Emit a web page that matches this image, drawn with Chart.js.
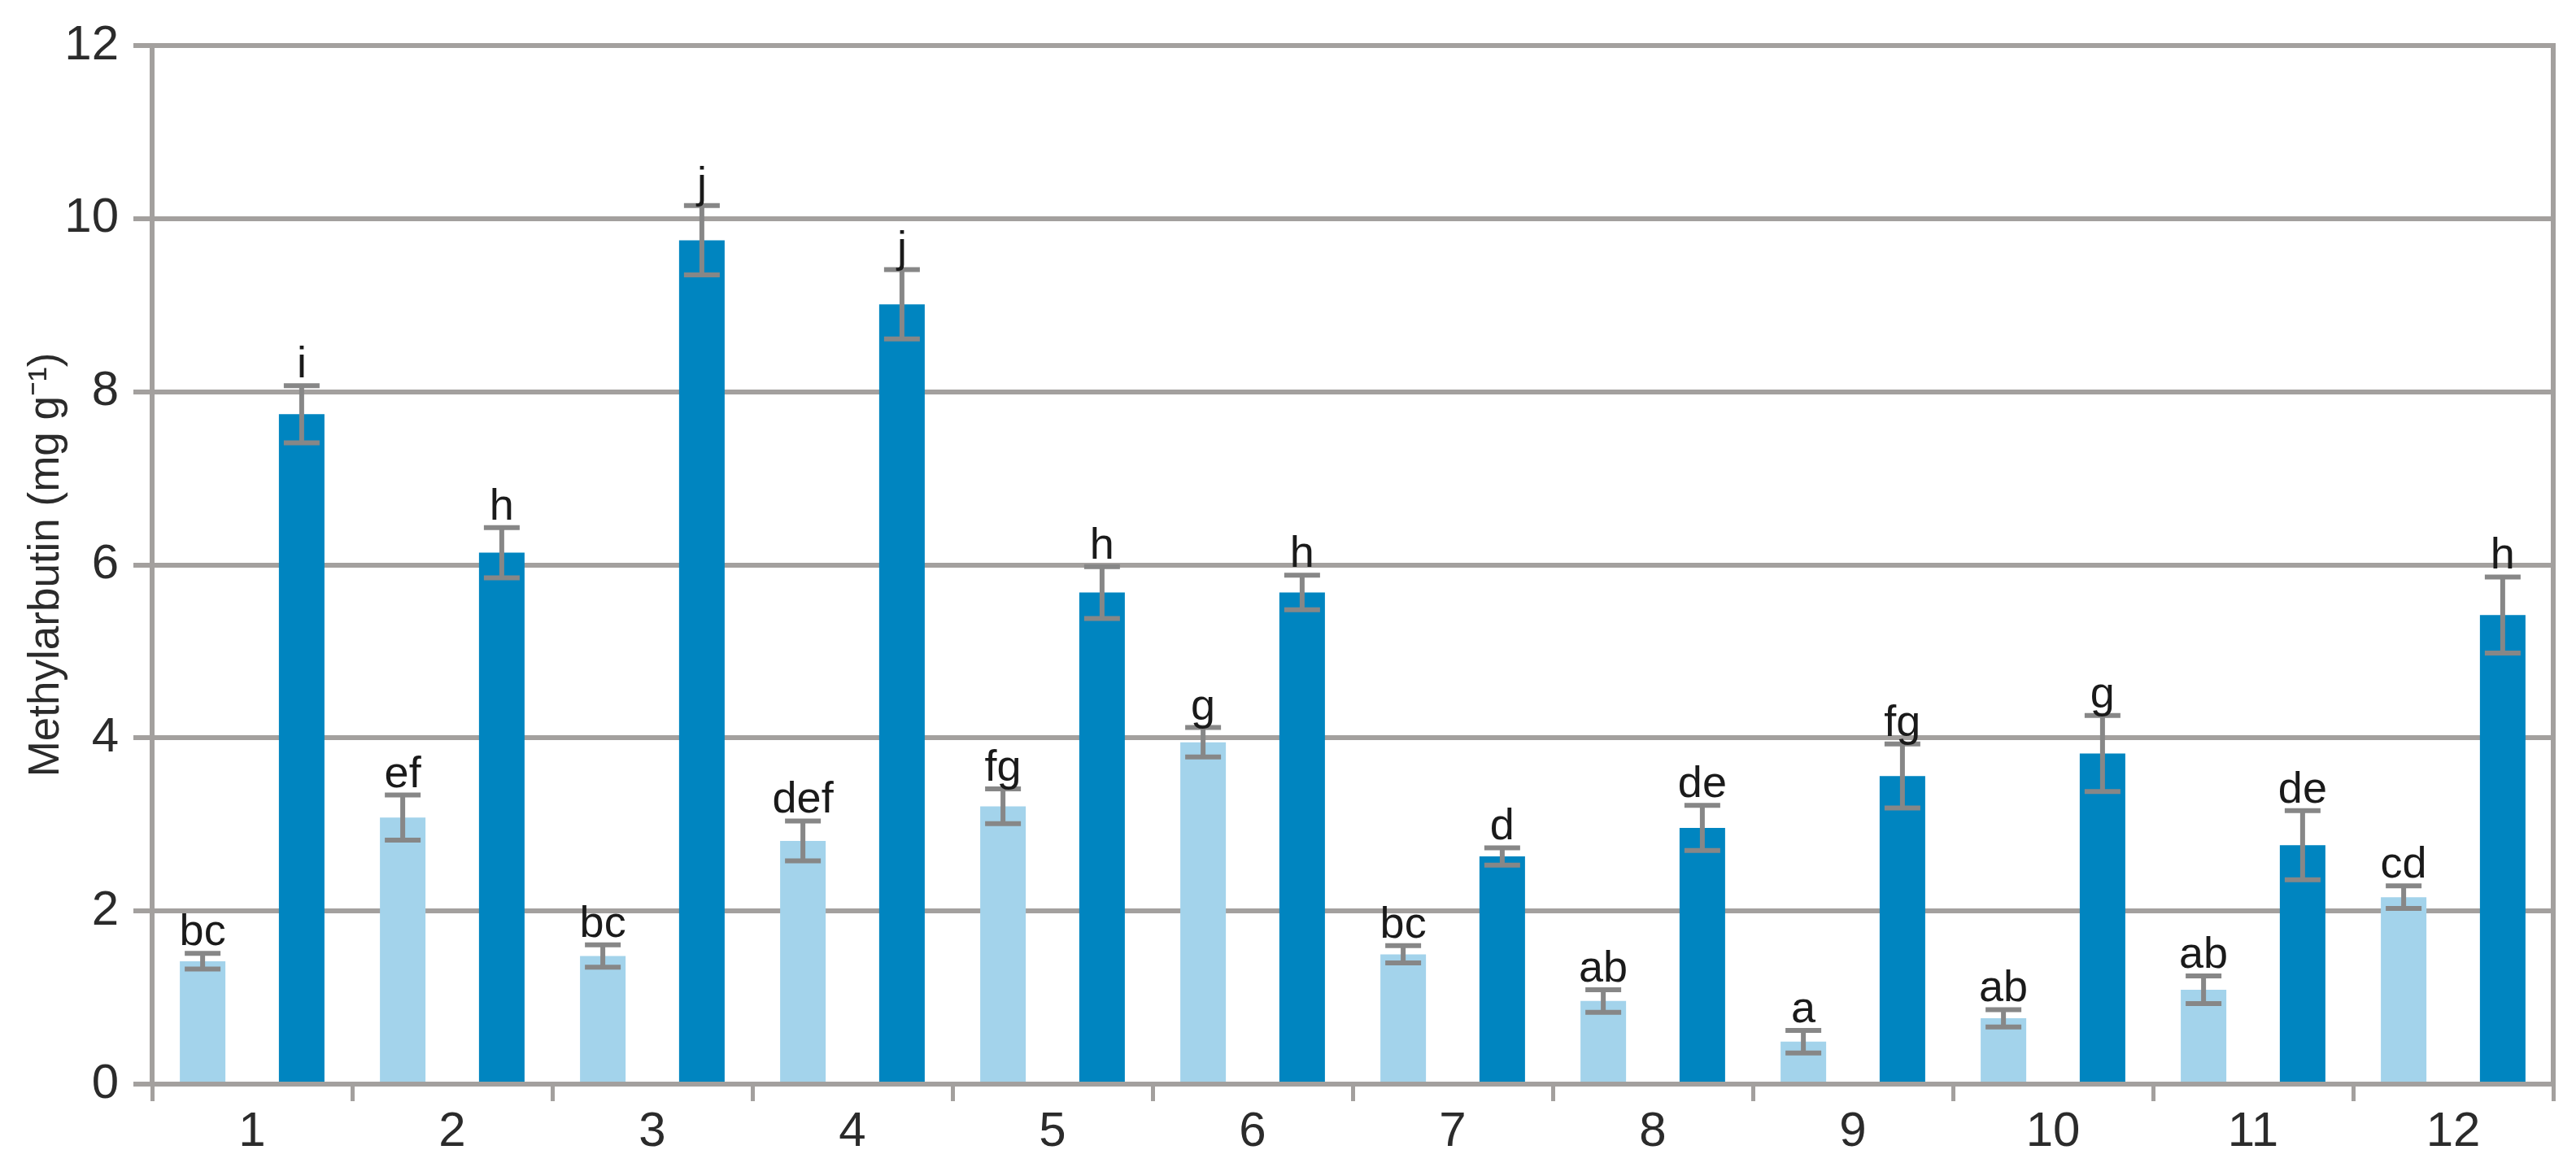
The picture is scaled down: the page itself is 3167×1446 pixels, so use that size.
<!DOCTYPE html>
<html>
<head>
<meta charset="utf-8">
<script src="https://cdn.jsdelivr.net/npm/chart.js@4"></script>
<style>
	html, body { margin: 0; padding: 0; background: #fff; }
	#wrap { width: 3167px; height: 1446px; }
</style>
</head>
<body>
<div id="wrap"><canvas id="chart" width="3167" height="1446"></canvas></div>
<script>
var categories = ['1', '2', '3', '4', '5', '6', '7', '8', '9', '10', '11', '12'];
var lightValues = [1.42, 3.08, 1.48, 2.81, 3.21, 3.95, 1.50, 0.96, 0.49, 0.76, 1.09, 2.16];
var lightErrors = [0.09, 0.26, 0.13, 0.23, 0.20, 0.17, 0.10, 0.13, 0.13, 0.10, 0.16, 0.13];
var lightLetters = ['bc', 'ef', 'bc', 'def', 'fg', 'g', 'bc', 'ab', 'a', 'ab', 'ab', 'cd'];
var darkValues = [7.74, 6.14, 9.75, 9.01, 5.68, 5.68, 2.63, 2.96, 3.56, 3.82, 2.76, 5.42];
var darkErrors = [0.33, 0.29, 0.40, 0.40, 0.30, 0.20, 0.10, 0.26, 0.37, 0.44, 0.40, 0.44];
var darkLetters = ['i', 'h', 'j', 'j', 'h', 'h', 'd', 'de', 'fg', 'g', 'de', 'h'];
var yTicks = [0, 2, 4, 6, 8, 10, 12];

var gridColor = '#a3a09e';
var errColor = '#878787';
var font = '"Liberation Sans", Arial, sans-serif';

// error bars + letters above them
var errorBars = {
	id: 'errorBars',
	afterDatasetsDraw: function(chart) {
		var ctx = chart.ctx;
		var y = chart.scales.y;
		chart.data.datasets.forEach(function(ds, di) {
			var meta = chart.getDatasetMeta(di);
			meta.data.forEach(function(bar, i) {
				var v = ds.data[i];
				var e = ds.errors[i];
				var top = y.getPixelForValue(v + e);
				var bot = y.getPixelForValue(v - e);
				var x = bar.x;
				ctx.save();
				ctx.strokeStyle = errColor;
				ctx.lineWidth = 6;
				ctx.beginPath();
				ctx.moveTo(x, top); ctx.lineTo(x, bot);
				ctx.moveTo(x - 22, top); ctx.lineTo(x + 22, top);
				ctx.moveTo(x - 22, bot); ctx.lineTo(x + 22, bot);
				ctx.stroke();
				ctx.fillStyle = '#1a1a1a';
				ctx.font = '54px ' + font;
				ctx.textAlign = 'center';
				ctx.textBaseline = 'alphabetic';
				ctx.fillText(ds.letters[i], x, top - 10);
				ctx.restore();
			});
		});
	}
};

// right frame line
var frame = {
	id: 'frame',
	beforeDatasetsDraw: function(chart) {
		var a = chart.chartArea;
		var ctx = chart.ctx;
		ctx.save();
		ctx.strokeStyle = gridColor;
		ctx.lineWidth = 6;
		ctx.beginPath();
		ctx.moveTo(a.right, a.top - 3);
		ctx.lineTo(a.right, a.bottom);
		ctx.stroke();
		ctx.restore();
	}
};

new Chart(document.getElementById('chart'), {
	type: 'bar',
	data: {
		labels: categories,
		datasets: [{
			data: lightValues,
			errors: lightErrors,
			letters: lightLetters,
			backgroundColor: '#a3d3eb',
			categoryPercentage: 0.99,
			barPercentage: 0.46
		}, {
			data: darkValues,
			errors: darkErrors,
			letters: darkLetters,
			backgroundColor: '#0085c0',
			categoryPercentage: 0.99,
			barPercentage: 0.46
		}]
	},
	options: {
		responsive: false,
		animation: false,
		layout: { padding: { left: 26, top: 56, right: 28, bottom: 0 } },
		plugins: { legend: { display: false }, tooltip: { enabled: false } },
		scales: {
			x: {
				offset: true,
				grid: {
					offset: true,
					drawOnChartArea: false,
					color: gridColor,
					lineWidth: 5,
					tickLength: 21
				},
				border: { color: gridColor, width: 6 },
				ticks: {
					color: '#2b2b2b',
					font: { family: font, size: 60 },
					padding: 2
				},
				afterFit: function(s) { s.height = 113; }
			},
			y: {
				min: 0,
				max: 12,
				afterBuildTicks: function(s) { s.ticks = yTicks.map(function(v) { return { value: v }; }); },
				grid: {
					color: gridColor,
					lineWidth: 6,
					tickLength: 23
				},
				border: { color: gridColor, width: 6 },
				ticks: {
					color: '#2b2b2b',
					font: { family: font, size: 60 },
					padding: 18
				},
				title: {
					display: true,
					text: 'Methylarbutin (mg g\u207B\u00B9)',
					color: '#2b2b2b',
					font: { family: font, size: 53 },
					padding: 0
				},
				afterFit: function(s) { s.width = 161; }
			}
		}
	},
	plugins: [frame, errorBars]
});
</script>
</body>
</html>
